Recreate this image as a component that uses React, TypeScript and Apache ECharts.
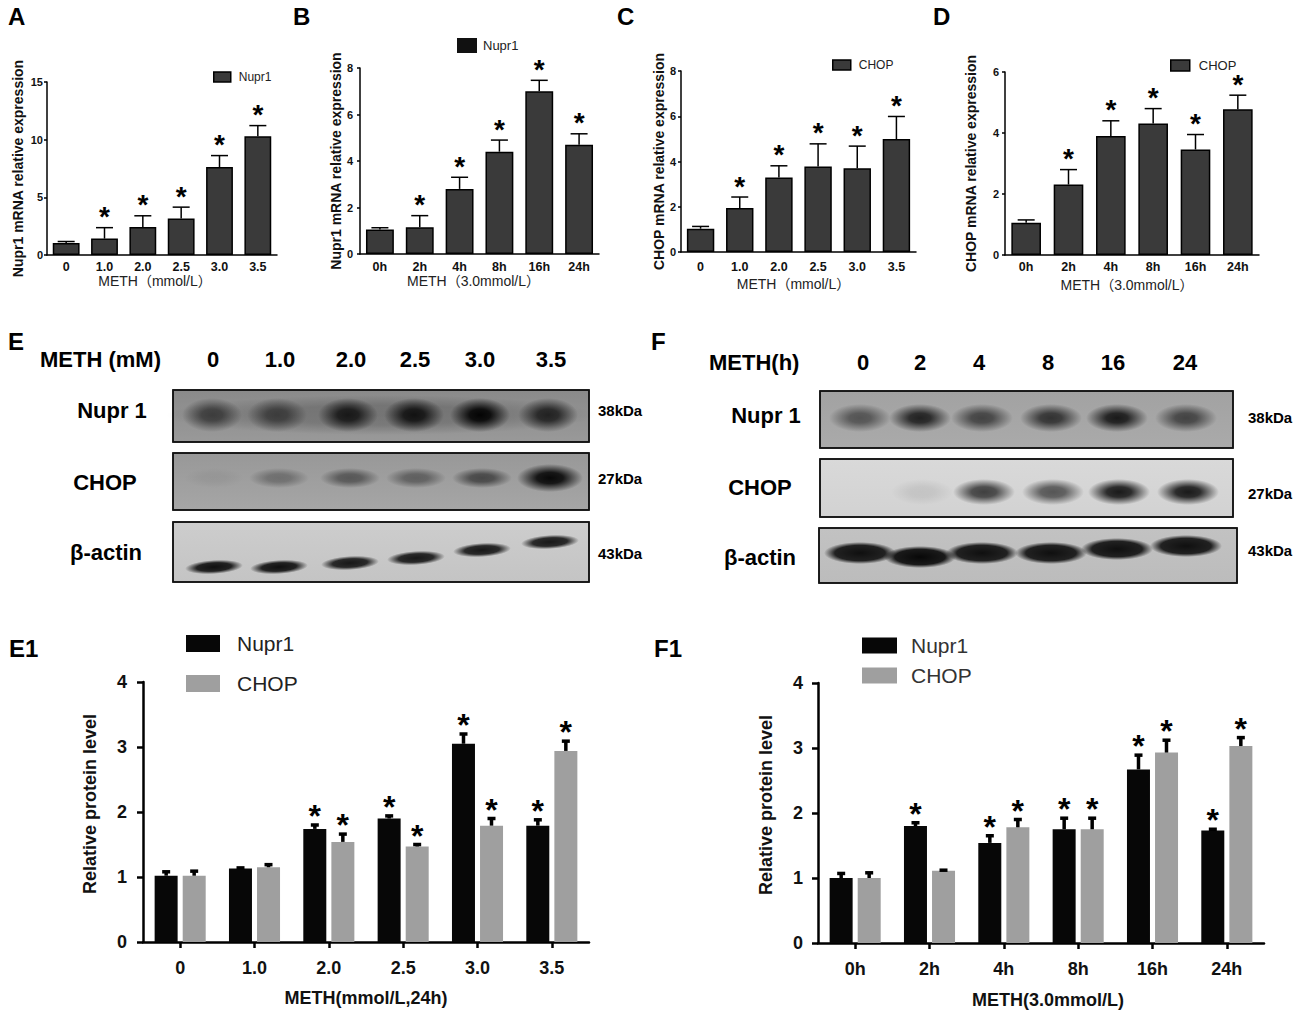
import React, { useEffect, useRef } from "react";
import * as echarts from "echarts";

// ---------- data ----------
const doseCats = ["0", "1.0", "2.0", "2.5", "3.0", "3.5"];
const timeCats = ["0h", "2h", "4h", "8h", "16h", "24h"];
const blotTimeLabels = ["0", "2", "4", "8", "16", "24"];

// A: Nupr1 mRNA vs dose
const aMean = [1.05, 1.42, 2.43, 3.17, 7.62, 10.3];
const aSem = [0.12, 0.95, 0.97, 0.98, 1.0, 0.92];
const aSig = [0, 1, 1, 1, 1, 1];
// B: Nupr1 mRNA vs time
const bMean = [1.05, 1.15, 2.8, 4.4, 7.0, 4.7];
const bSem = [0.08, 0.5, 0.5, 0.5, 0.47, 0.47];
const bSig = [0, 1, 1, 1, 1, 1];
// C: CHOP mRNA vs dose
const cMean = [1.03, 1.94, 3.29, 3.78, 3.7, 4.99];
const cSem = [0.1, 0.49, 0.52, 1.0, 0.98, 1.0];
const cSig = [0, 1, 1, 1, 1, 1];
// D: CHOP mRNA vs time
const dMean = [1.06, 2.31, 3.9, 4.31, 3.46, 4.78];
const dSem = [0.09, 0.49, 0.5, 0.49, 0.49, 0.46];
const dSig = [0, 1, 1, 1, 1, 1];
// E1: protein vs dose
const e1Nupr1 = [1.02, 1.13, 1.74, 1.9, 3.05, 1.79];
const e1Nupr1Sem = [0.06, 0.01, 0.06, 0.04, 0.15, 0.09];
const e1Nupr1Sig = [0, 0, 1, 1, 1, 1];
const e1Chop = [1.02, 1.15, 1.54, 1.47, 1.79, 2.94];
const e1ChopSem = [0.07, 0.04, 0.12, 0.03, 0.11, 0.15];
const e1ChopSig = [0, 0, 1, 1, 1, 1];
// F1: protein vs time
const f1Nupr1 = [1.0, 1.8, 1.54, 1.75, 2.67, 1.73];
const f1Nupr1Sem = [0.07, 0.05, 0.11, 0.17, 0.22, 0.02];
const f1Nupr1Sig = [0, 1, 1, 1, 1, 1];
const f1Chop = [1.0, 1.11, 1.78, 1.75, 2.93, 3.03];
const f1ChopSem = [0.08, 0.01, 0.12, 0.17, 0.19, 0.13];
const f1ChopSig = [0, 0, 1, 1, 1, 1];

// western blot band intensities (0..1)
const eNupr1Band = [0.55, 0.5, 0.8, 0.85, 0.97, 0.75];
const eChopBand = [0.05, 0.3, 0.45, 0.4, 0.55, 0.95];
const eActinBand = [0.92, 0.92, 0.88, 0.88, 0.88, 0.88];
const fNupr1Band = [0.5, 0.8, 0.6, 0.7, 0.85, 0.6];
const fChopBand = [0.0, 0.08, 0.7, 0.6, 0.88, 0.88];
const fActinBand = [0.92, 0.96, 0.92, 0.92, 0.92, 0.92];

// ---------- styles ----------
const SANS = "'Liberation Sans', Arial, 'Noto Sans CJK SC', sans-serif";
const NARROW = "'Liberation Sans Narrow', 'Liberation Sans', Arial, sans-serif";

type Panel = {
  grid: any;
  cats: string[];
  max: number;
  interval: number;
  yName: string;
  yGap: number;
  xName: string;
  xGap: number;
  xPad: number[];
  yLabelMargin: number;
  xLabelMargin: number;
};

const smallPanels: Panel[] = [
  { grid: { left: 47, top: 82, width: 230, height: 173 }, cats: doseCats, max: 15, interval: 5, yName: "Nupr1 mRNA relative expression", yGap: 22, xName: "METH（mmol/L）", xGap: 15, xPad: [0, 14, 0, 0], yLabelMargin: 4, xLabelMargin: 6 },
  { grid: { left: 360, top: 68, width: 239, height: 186 }, cats: timeCats, max: 8, interval: 2, yName: "Nupr1 mRNA relative expression", yGap: 14, xName: "METH（3.0mmol/L）", xGap: 16, xPad: [0, 12, 0, 0], yLabelMargin: 7, xLabelMargin: 7 },
  { grid: { left: 681, top: 71, width: 235, height: 181 }, cats: doseCats, max: 8, interval: 2, yName: "CHOP mRNA relative expression", yGap: 15, xName: "METH（mmol/L）", xGap: 25, xPad: [0, 10, 0, 0], yLabelMargin: 5, xLabelMargin: 9 },
  { grid: { left: 1005, top: 72, width: 254, height: 183 }, cats: timeCats, max: 6, interval: 2, yName: "CHOP mRNA relative expression", yGap: 27, xName: "METH（3.0mmol/L）", xGap: 23, xPad: [0, 10, 0, 0], yLabelMargin: 6, xLabelMargin: 6 },
];

const bigPanels: Panel[] = [
  { grid: { left: 143, top: 682, width: 446, height: 260 }, cats: doseCats, max: 4, interval: 1, yName: "Relative protein level", yGap: 44, xName: "METH(mmol/L,24h)", xGap: 47, xPad: [0, 0, 0, 0], yLabelMargin: 16, xLabelMargin: 17 },
  { grid: { left: 818, top: 683, width: 446, height: 260 }, cats: timeCats, max: 4, interval: 1, yName: "Relative protein level", yGap: 43, xName: "METH(3.0mmol/L)", xGap: 48, xPad: [0, 0, 0, 14], yLabelMargin: 15, xLabelMargin: 17 },
];

const SMALL_BAR = { color: "#3a3a3a", borderColor: "#000", borderWidth: 1.5 };
const NUPR_BIG = { color: "#070707" };
const CHOP_BIG = { color: "#9f9f9f" };

function errSeries(idx: number, means: number[], sems: number[], sig: number[], opt: { off: number; cap: number; lw: number; fs: number; starDy: number }) {
  return {
    type: "custom",
    name: "err" + idx + "_" + opt.off,
    xAxisIndex: idx,
    yAxisIndex: idx,
    z: 10,
    silent: true,
    encode: { x: 0, y: 1 },
    data: means.map((m, i) => [i, m, m + sems[i], sig[i]]),
    renderItem: (params: any, api: any) => {
      const i = api.value(0);
      const p0 = api.coord([i, api.value(1)]);
      const p1 = api.coord([i, api.value(2)]);
      const x = p0[0] + opt.off;
      const children: any[] = [
        { type: "line", shape: { x1: x, y1: p0[1], x2: x, y2: p1[1] }, style: { stroke: "#000", lineWidth: opt.lw } },
        { type: "line", shape: { x1: x - opt.cap / 2, y1: p1[1], x2: x + opt.cap / 2, y2: p1[1] }, style: { stroke: "#000", lineWidth: opt.lw } },
      ];
      if (api.value(3)) {
        children.push({
          type: "text",
          x: x,
          y: p1[1] + opt.starDy,
          style: {
            text: "*",
            fill: "#000",
            font: `bold ${opt.fs}px ${SANS}`,
            textAlign: "center",
            textVerticalAlign: "middle",
            align: "center",
            verticalAlign: "middle",
          },
        });
      }
      return { type: "group", children };
    },
  };
}

function txt(text: string, x: number, y: number, size: number, align: string, weight = "bold", family = SANS, fill = "#000") {
  return {
    type: "text",
    x,
    y,
    silent: true,
    style: {
      text,
      fill,
      font: `${weight} ${size}px ${family}`,
      textAlign: align,
      textVerticalAlign: "middle",
      align,
      verticalAlign: "middle",
    },
  };
}

function band(cx: number, cy: number, rx: number, ry: number, a: number, hard = 0.45, rot = 0) {
  return {
    type: "ellipse",
    silent: true,
    x: cx,
    y: cy,
    rotation: rot,
    shape: { cx: 0, cy: 0, rx, ry },
    style: {
      fill: {
        type: "radial",
        x: 0.5,
        y: 0.5,
        r: 0.5,
        colorStops: [
          { offset: 0, color: `rgba(0,0,0,${a})` },
          { offset: hard, color: `rgba(0,0,0,${a * 0.9})` },
          { offset: 1, color: "rgba(0,0,0,0)" },
        ],
      },
    },
  };
}

function blotBox(x: number, y: number, w: number, h: number, top: string, bottom: string) {
  return {
    type: "rect",
    silent: true,
    shape: { x, y, width: w, height: h },
    style: {
      fill: { type: "linear", x: 0, y: 0, x2: 0, y2: 1, colorStops: [{ offset: 0, color: top }, { offset: 1, color: bottom }] },
      stroke: "#111",
      lineWidth: 1.5,
    },
  };
}

function frame(x: number, y: number, w: number, h: number) {
  return { type: "rect", silent: true, shape: { x, y, width: w, height: h }, style: { fill: "none", stroke: "#111", lineWidth: 1.5 } };
}

const eLaneX = [212, 277, 348, 414, 480, 548];
const fLaneX = [860, 920, 982, 1051, 1117, 1186];
const eActinDy = [0, 0, -4, -9, -17, -25];
const fActinDy = [0, 4, 0, 0, -4, -7];

function buildGraphics() {
  const g: any[] = [];
  // panel letters
  g.push(txt("A", 8, 16, 24, "left"));
  g.push(txt("B", 293, 16, 24, "left"));
  g.push(txt("C", 617, 16, 24, "left"));
  g.push(txt("D", 933, 16, 24, "left"));
  g.push(txt("E", 8, 341, 24, "left"));
  g.push(txt("F", 651, 341, 24, "left"));
  g.push(txt("E1", 9, 648, 24, "left"));
  g.push(txt("F1", 654, 648, 24, "left"));

  // ---- blot E ----
  g.push(txt("METH (mM)", 40, 359, 22, "left"));
  doseCats.forEach((c, i) => g.push(txt(c, eLaneX[i] + [1, 3, 3, 1, 0, 3][i], 359, 22, "center")));
  g.push(txt("Nupr 1", 112, 410, 22, "center"));
  g.push(txt("CHOP", 105, 482, 22, "center"));
  g.push(txt("β-actin", 106, 552, 22, "center"));
  g.push(txt("38kDa", 598, 410, 15, "left", "bold", NARROW));
  g.push(txt("27kDa", 598, 478, 15, "left", "bold", NARROW));
  g.push(txt("43kDa", 598, 553, 15, "left", "bold", NARROW));

  g.push(blotBox(173, 390, 416, 52, "#8a8a8a", "#999999"));
  g.push(band(381, 415, 215, 20, 0.2, 0.5));
  eNupr1Band.forEach((a, i) => g.push(band(eLaneX[i], 415, 30, 17, a, 0.35)));
  g.push(frame(173, 390, 416, 52));

  g.push(blotBox(173, 453, 416, 57, "#989898", "#a6a6a6"));
  eChopBand.forEach((a, i) => g.push(band(eLaneX[i] + 2, 478, i === 5 ? 33 : 30, i === 5 ? 14 : 10, a, 0.4)));
  g.push(frame(173, 453, 416, 57));

  g.push(blotBox(173, 522, 416, 60, "#cdcdcd", "#c4c4c4"));
  eActinBand.forEach((a, i) => g.push(band(eLaneX[i] + 2, 567 + eActinDy[i], 29, 7, a, 0.6, 0.06)));
  g.push(frame(173, 522, 416, 60));

  // ---- blot F ----
  g.push(txt("METH(h)", 709, 362, 22, "left"));
  blotTimeLabels.forEach((c, i) => g.push(txt(c, [863, 920, 979, 1048, 1113, 1185][i], 362, 22, "center")));
  g.push(txt("Nupr 1", 766, 415, 22, "center"));
  g.push(txt("CHOP", 760, 487, 22, "center"));
  g.push(txt("β-actin", 760, 557, 22, "center"));
  g.push(txt("38kDa", 1248, 417, 15, "left", "bold", NARROW));
  g.push(txt("27kDa", 1248, 493, 15, "left", "bold", NARROW));
  g.push(txt("43kDa", 1248, 550, 15, "left", "bold", NARROW));

  g.push(blotBox(820, 391, 413, 57, "#a2a2a2", "#aaaaaa"));
  fNupr1Band.forEach((a, i) => g.push(band(fLaneX[i], 418, 31, 14, a, 0.35)));
  g.push(frame(820, 391, 413, 57));

  g.push(blotBox(820, 459, 413, 58, "#d9d9d9", "#d2d2d2"));
  fChopBand.forEach((a, i) => g.push(band(fLaneX[i] + 2, 492, 31, 13, a, 0.4)));
  g.push(frame(820, 459, 413, 58));

  g.push(blotBox(819, 528, 418, 55, "#c2c2c2", "#bcbcbc"));
  fActinBand.forEach((a, i) => g.push(band(fLaneX[i], 553 + fActinDy[i], 36, 11, a, 0.7)));
  g.push(frame(819, 528, 418, 55));

  return g;
}

function buildOption() {
  const grids: any[] = [];
  const xAxes: any[] = [];
  const yAxes: any[] = [];
  const series: any[] = [];

  smallPanels.forEach((p, i) => {
    grids.push({ ...p.grid, containLabel: false });
    xAxes.push({
      type: "category",
      gridIndex: i,
      data: p.cats,
      axisLine: { lineStyle: { color: "#000", width: 1.5 } },
      axisTick: { show: false },
      axisLabel: { color: "#111", fontWeight: "bold", fontSize: 12.5, fontFamily: SANS, margin: p.xLabelMargin },
      name: p.xName,
      nameLocation: "middle",
      nameGap: p.xGap,
      nameTextStyle: { color: "#222", fontSize: 14, fontFamily: SANS, padding: p.xPad },
    });
    yAxes.push({
      type: "value",
      gridIndex: i,
      min: 0,
      max: p.max,
      interval: p.interval,
      axisLine: { show: true, lineStyle: { color: "#000", width: 1.5 } },
      axisTick: { show: true, length: 3, lineStyle: { color: "#000", width: 1.5 } },
      splitLine: { show: false },
      axisLabel: { color: "#111", fontWeight: "bold", fontSize: 11, fontFamily: SANS, margin: p.yLabelMargin },
      name: p.yName,
      nameLocation: "middle",
      nameGap: p.yGap,
      nameRotate: 90,
      nameTextStyle: { color: "#111", fontWeight: "bold", fontSize: 14, fontFamily: SANS },
    });
  });

  bigPanels.forEach((p, j) => {
    const i = j + 4;
    grids.push({ ...p.grid, containLabel: false });
    xAxes.push({
      type: "category",
      gridIndex: i,
      data: p.cats,
      axisLine: { lineStyle: { color: "#000", width: 2.5 } },
      axisTick: { show: true, alignWithLabel: true, length: 6, lineStyle: { color: "#000", width: 2.5 } },
      axisLabel: { color: "#111", fontWeight: "bold", fontSize: 18, fontFamily: SANS, margin: p.xLabelMargin },
      name: p.xName,
      nameLocation: "middle",
      nameGap: p.xGap,
      nameTextStyle: { color: "#111", fontWeight: "bold", fontSize: 18, fontFamily: SANS, padding: p.xPad },
    });
    yAxes.push({
      type: "value",
      gridIndex: i,
      min: 0,
      max: p.max,
      interval: p.interval,
      axisLine: { show: true, lineStyle: { color: "#000", width: 2.5 } },
      axisTick: { show: true, length: 6, lineStyle: { color: "#000", width: 2.5 } },
      splitLine: { show: false },
      axisLabel: { color: "#111", fontWeight: "bold", fontSize: 18, fontFamily: SANS, margin: p.yLabelMargin },
      name: p.yName,
      nameLocation: "middle",
      nameGap: p.yGap,
      nameRotate: 90,
      nameTextStyle: { color: "#111", fontWeight: "bold", fontSize: 18, fontFamily: SANS, padding: [0, 0, 0, 16] },
    });
  });

  const smallErr = { off: 0, cap: 17, lw: 1.5, fs: 28, starDy: -11 };
  const smallData: [string, number[], number[], number[]][] = [
    ["Nupr1", aMean, aSem, aSig],
    ["Nupr1", bMean, bSem, bSig],
    ["CHOP", cMean, cSem, cSig],
    ["CHOP", dMean, dSem, dSig],
  ];
  smallData.forEach(([name, m, s, sig], i) => {
    series.push({ type: "bar", name, xAxisIndex: i, yAxisIndex: i, data: m, barWidth: "70%", itemStyle: SMALL_BAR, silent: true });
    series.push(errSeries(i, m, s, sig, smallErr));
  });

  const BW = 23;
  const off = 14;
  const bigErr = { cap: 8, lw: 3.5, fs: 32, starDy: -9 };
  const bigData: [number[], number[], number[], number[], number[], number[]][] = [
    [e1Nupr1, e1Nupr1Sem, e1Nupr1Sig, e1Chop, e1ChopSem, e1ChopSig],
    [f1Nupr1, f1Nupr1Sem, f1Nupr1Sig, f1Chop, f1ChopSem, f1ChopSig],
  ];
  bigData.forEach(([nm, ns, nsig, cm, cs, csig], j) => {
    const i = j + 4;
    series.push({ type: "bar", name: "Nupr1", xAxisIndex: i, yAxisIndex: i, data: nm, barWidth: BW, barGap: "22%", itemStyle: NUPR_BIG, silent: true });
    series.push({ type: "bar", name: "CHOP", xAxisIndex: i, yAxisIndex: i, data: cm, barWidth: BW, barGap: "22%", itemStyle: CHOP_BIG, silent: true });
    series.push(errSeries(i, nm, ns, nsig, { ...bigErr, off: -off }));
    series.push(errSeries(i, cm, cs, csig, { ...bigErr, off: off }));
  });

  const legBase = { orient: "vertical", padding: 0, icon: "rect", selectedMode: false };
  const legends = [
    { ...legBase, left: 213, top: 71, itemWidth: 17, itemHeight: 10, itemGap: 0, data: [{ name: "Nupr1", itemStyle: SMALL_BAR }], textStyle: { fontSize: 12, color: "#222", fontFamily: SANS, padding: [0, 0, 0, 3] } },
    { ...legBase, left: 457, top: 38, itemWidth: 20, itemHeight: 15, itemGap: 0, data: [{ name: "Nupr1", itemStyle: { color: "#111", borderWidth: 0 } }], textStyle: { fontSize: 13, color: "#222", fontFamily: SANS, padding: [0, 0, 0, 1] } },
    { ...legBase, left: 832, top: 59, itemWidth: 18, itemHeight: 10, itemGap: 0, data: [{ name: "CHOP", itemStyle: SMALL_BAR }], textStyle: { fontSize: 12, color: "#222", fontFamily: SANS, padding: [0, 0, 0, 3] } },
    { ...legBase, left: 1170, top: 59, itemWidth: 19, itemHeight: 11, itemGap: 0, data: [{ name: "CHOP", itemStyle: SMALL_BAR }], textStyle: { fontSize: 13, color: "#222", fontFamily: SANS, padding: [0, 0, 0, 4] } },
    {
      ...legBase, left: 186, top: 633, itemWidth: 34, itemHeight: 17, itemGap: 19,
      data: [{ name: "Nupr1", itemStyle: { ...NUPR_BIG, borderWidth: 0 } }, { name: "CHOP", itemStyle: { ...CHOP_BIG, borderWidth: 0 } }],
      textStyle: { fontSize: 21, color: "#222", fontFamily: SANS, padding: [0, 0, 0, 12] },
    },
    {
      ...legBase, left: 862, top: 635, itemWidth: 35, itemHeight: 16, itemGap: 9,
      data: [{ name: "Nupr1", itemStyle: { ...NUPR_BIG, borderWidth: 0 } }, { name: "CHOP", itemStyle: { ...CHOP_BIG, borderWidth: 0 } }],
      textStyle: { fontSize: 21, color: "#333", fontFamily: SANS, padding: [0, 0, 0, 9] },
    },
  ];

  return {
    animation: false,
    backgroundColor: "#ffffff",
    grid: grids,
    xAxis: xAxes,
    yAxis: yAxes,
    legend: legends,
    series,
    graphic: buildGraphics(),
  };
}

export default function App() {
  const ref = useRef<HTMLDivElement>(null);
  useEffect(() => {
    if (!ref.current) return;
    const chart = echarts.init(ref.current, undefined, { renderer: "svg" });
    chart.setOption(buildOption() as any);
    return () => chart.dispose();
  }, []);
  return <div ref={ref} style={{ position: "absolute", left: 0, top: 0, width: 1300, height: 1014, background: "#fff" }} />;
}
